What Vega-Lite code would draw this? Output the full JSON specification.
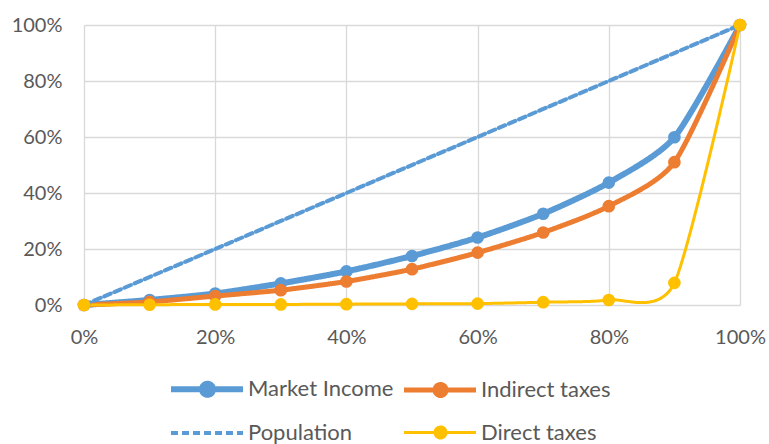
{
  "$schema": "https://vega.github.io/schema/vega-lite/v6.json",
  "width": 656,
  "height": 280,
  "autosize": "none",
  "padding": {"left": 84, "top": 25, "right": 29, "bottom": 139},
  "background": "white",
  "config": {
    "view": {"stroke": null},
    "font": "Lato",
    "axis": {
      "labelFont": "Lato",
      "labelFontSize": 20,
      "labelColor": "#595959",
      "gridColor": "#D9D9D9",
      "gridWidth": 1.3,
      "domain": false,
      "ticks": false,
      "labelFlush": false,
      "title": null
    }
  },
  "data": {
    "values": [
      {"series": "Market Income", "x": 0, "y": 0},
      {"series": "Market Income", "x": 0.1, "y": 0.018},
      {"series": "Market Income", "x": 0.2, "y": 0.041},
      {"series": "Market Income", "x": 0.3, "y": 0.077},
      {"series": "Market Income", "x": 0.4, "y": 0.12},
      {"series": "Market Income", "x": 0.5, "y": 0.175},
      {"series": "Market Income", "x": 0.6, "y": 0.241},
      {"series": "Market Income", "x": 0.7, "y": 0.326},
      {"series": "Market Income", "x": 0.8, "y": 0.437},
      {"series": "Market Income", "x": 0.9, "y": 0.599},
      {"series": "Market Income", "x": 1, "y": 1},
      {"series": "Indirect taxes", "x": 0, "y": 0},
      {"series": "Indirect taxes", "x": 0.1, "y": 0.011},
      {"series": "Indirect taxes", "x": 0.2, "y": 0.032},
      {"series": "Indirect taxes", "x": 0.3, "y": 0.053},
      {"series": "Indirect taxes", "x": 0.4, "y": 0.084},
      {"series": "Indirect taxes", "x": 0.5, "y": 0.128},
      {"series": "Indirect taxes", "x": 0.6, "y": 0.187},
      {"series": "Indirect taxes", "x": 0.7, "y": 0.259},
      {"series": "Indirect taxes", "x": 0.8, "y": 0.353},
      {"series": "Indirect taxes", "x": 0.9, "y": 0.51},
      {"series": "Indirect taxes", "x": 1, "y": 1},
      {"series": "Population", "x": 0, "y": 0},
      {"series": "Population", "x": 1, "y": 1},
      {"series": "Direct taxes", "x": 0, "y": 0},
      {"series": "Direct taxes", "x": 0.1, "y": 0.001},
      {"series": "Direct taxes", "x": 0.2, "y": 0.002},
      {"series": "Direct taxes", "x": 0.3, "y": 0.002},
      {"series": "Direct taxes", "x": 0.4, "y": 0.003},
      {"series": "Direct taxes", "x": 0.5, "y": 0.004},
      {"series": "Direct taxes", "x": 0.6, "y": 0.005},
      {"series": "Direct taxes", "x": 0.7, "y": 0.01},
      {"series": "Direct taxes", "x": 0.8, "y": 0.018},
      {"series": "Direct taxes", "x": 0.9, "y": 0.079},
      {"series": "Direct taxes", "x": 1, "y": 1}
    ]
  },
  "encoding": {
    "x": {
      "field": "x", "type": "quantitative",
      "scale": {"domain": [0, 1], "nice": false},
      "axis": {"values": [0, 0.2, 0.4, 0.6, 0.8, 1], "format": ".0%", "labelPadding": 22}
    },
    "y": {
      "field": "y", "type": "quantitative",
      "scale": {"domain": [0, 1], "nice": false},
      "axis": {"values": [0, 0.2, 0.4, 0.6, 0.8, 1], "format": ".0%", "labelPadding": 22}
    },
    "color": {
      "field": "series", "type": "nominal",
      "scale": {
        "domain": ["Market Income", "Indirect taxes", "Population", "Direct taxes"],
        "range": ["#5B9BD5", "#ED7D31", "#5B9BD5", "#FFC000"]
      },
      "legend": {
        "title": null,
        "orient": "none",
        "legendX": 84,
        "legendY": 351,
        "columns": 2,
        "direction": "horizontal",
        "padding": 0,
        "columnPadding": 0,
        "rowPadding": 14,
        "symbolSize": 400,
        "labelFont": "Lato",
        "labelFontSize": 22,
        "labelColor": "#595959",
        "labelOffset": 54,
        "encode": {
          "symbols": {
            "update": {
              "shape": {"signal": "datum.value === 'Population' ? 'M-1,0L6.2,0' : 'M-1,0L6.2,0M2.1,0A0.55,0.55,0,1,0,3.2,0A0.55,0.55,0,1,0,2.1,0Z'"},
              "strokeWidth": {"signal": "datum.value === 'Market Income' ? 6 : 3"},
              "strokeDash": {"signal": "datum.value === 'Population' ? [7, 4] : [1, 0]"},
              "fill": {"signal": "scale('color', datum.value)"},
              "stroke": {"signal": "scale('color', datum.value)"},
              "fillOpacity": {"value": 1},
              "opacity": {"value": 1}
            }
          }
        }
      }
    }
  },
  "layer": [
    {
      "mark": {"type": "line", "interpolate": "cardinal", "tension": 0.3, "strokeCap": "round"},
      "encoding": {
        "strokeWidth": {
          "field": "series", "type": "nominal",
          "scale": {"domain": ["Market Income", "Indirect taxes", "Population", "Direct taxes"], "range": [6, 3, 2.8, 3]},
          "legend": null
        },
        "strokeDash": {
          "field": "series", "type": "nominal",
          "scale": {"domain": ["Market Income", "Indirect taxes", "Population", "Direct taxes"], "range": [[1, 0], [1, 0], [7, 4], [1, 0]]},
          "legend": null
        }
      }
    },
    {
      "transform": [{"filter": "datum.series !== 'Population'"}],
      "mark": {"type": "point", "filled": true, "opacity": 1, "size": 160},
      "encoding": {}
    }
  ]
}
